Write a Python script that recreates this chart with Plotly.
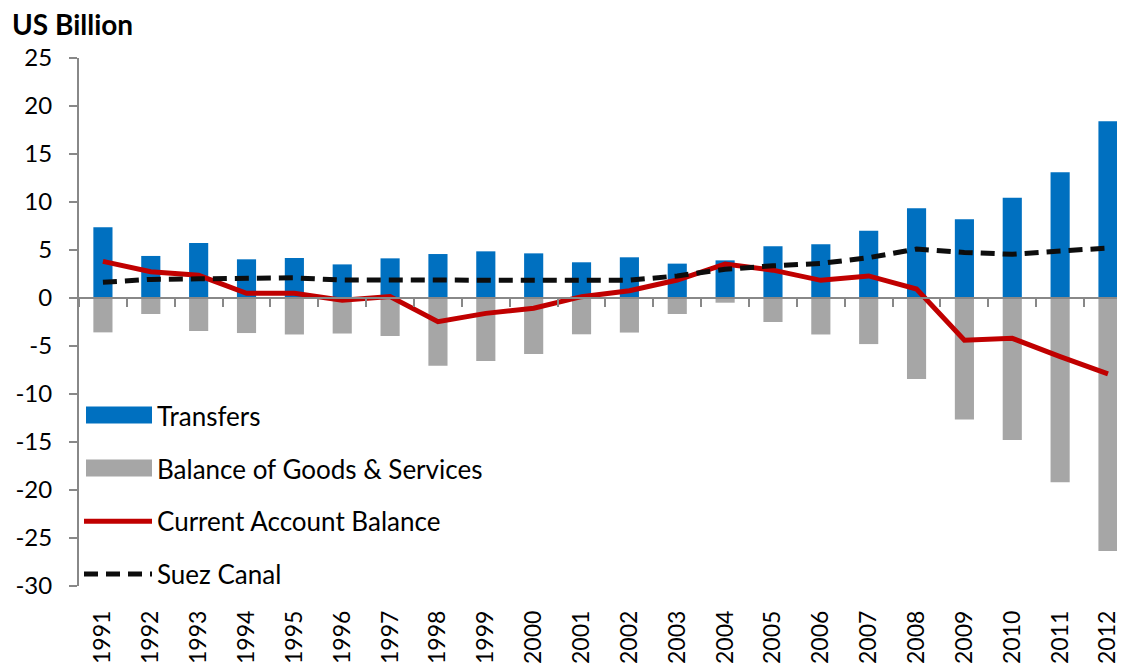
import plotly.graph_objects as go

years = [str(y) for y in range(1991, 2013)]
transfers = [7.36, 4.38, 5.73, 4.03, 4.17, 3.5, 4.13, 4.58, 4.86, 4.65, 3.72, 4.24,
             3.58, 3.92, 5.4, 5.6, 7.0, 9.35, 8.2, 10.45, 13.1, 18.4]
goods_services = [-3.58, -1.67, -3.44, -3.65, -3.8, -3.7, -3.96, -7.05, -6.56, -5.83, -3.78, -3.6,
                  -1.67, -0.49, -2.5, -3.8, -4.8, -8.45, -12.65, -14.8, -19.2, -26.35]
current_account = [3.82, 2.74, 2.36, 0.49, 0.49, -0.24, 0.16, -2.46, -1.6, -1.07, 0.14, 0.76,
                   1.87, 3.54, 2.9, 1.84, 2.3, 0.94, -4.4, -4.2, -6.1, -7.9]
suez_canal = [1.64, 1.94, 2.0, 2.0, 2.1, 1.87, 1.87, 1.84, 1.84, 1.84, 1.85, 1.85,
              2.3, 3.0, 3.35, 3.6, 4.2, 5.1, 4.75, 4.55, 4.9, 5.2]
y_tick_vals = [-30, -25, -20, -15, -10, -5, 0, 5, 10, 15, 20, 25]
y_tick_text = [str(v) for v in y_tick_vals]

FONT = "Lato"
AX = "#888888"
BLUE = "#0070C0"
GREY = "#A6A6A6"
n = len(years)

# layout geometry (page has an 8px body margin, so everything is shifted by -8px)
ML, MT, MR, MB = 71, 50, 8, 86
W, H = 1125, 664
PW = W - ML - MR
PH = H - MT - MB
xrange_ = [-0.5, -0.5 + PW / 47.86]


def px_to_paper_x(px):
    return (px - 8 - ML) / PW


def px_to_paper_y(py):
    return (H - MB - (py - 8)) / PH


fig = go.Figure()
fig.add_trace(go.Bar(x=years, y=transfers, name="Transfers", width=0.4,
                     marker=dict(color=BLUE, line=dict(width=0)), legendgroup="a"))
fig.add_trace(go.Bar(x=years, y=goods_services, name="Balance of Goods & Services", width=0.4,
                     marker=dict(color=GREY, line=dict(width=0)), legendgroup="b"))
fig.add_trace(go.Scatter(x=years, y=current_account, name="Current Account Balance", mode="lines",
                         line=dict(color="#C00000", width=5), legendgroup="c"))
fig.add_trace(go.Scatter(x=years, y=suez_canal, name="Suez Canal", mode="lines",
                         line=dict(color="#0D0D0D", width=5, dash="14px,8px"), legendgroup="d"))
# helper trace for the zero-line category axis
fig.add_trace(go.Scatter(x=years, y=[None] * n, xaxis="x2", showlegend=False, hoverinfo="skip"))

# wide legend swatches for the bar series
shapes = []
for cy, col in [(415, BLUE), (468, GREY)]:
    shapes.append(dict(type="rect", xref="paper", yref="paper", layer="above",
                       x0=px_to_paper_x(86), x1=px_to_paper_x(152),
                       y0=px_to_paper_y(cy - 8.5), y1=px_to_paper_y(cy + 8.5),
                       fillcolor=col, line=dict(width=0)))

fig.update_layout(
    width=W, height=H,
    margin=dict(l=ML, r=MR, t=MT, b=MB),
    plot_bgcolor="white", paper_bgcolor="white",
    barmode="overlay",
    font=dict(family=FONT, size=23, color="black"),
    title=dict(text="<b>US Billion</b>", x=4 / W, xanchor="left", y=1 - 17 / H, yanchor="middle",
               font=dict(family=FONT, size=28, color="black")),
    xaxis=dict(type="category", range=xrange_, showline=False, ticks="", showgrid=False,
               tickangle=-90, tickfont=dict(size=23), ticklabelstandoff=19, zeroline=False),
    xaxis2=dict(type="category", overlaying="x", anchor="free", position=30 / 55, range=xrange_,
                showline=True, linecolor=AX, linewidth=2, ticks="outside", tickson="boundaries",
                ticklen=8, tickwidth=2, tickcolor=AX, showticklabels=False, showgrid=False, side="bottom"),
    yaxis=dict(range=[-30, 25], tickmode="array", tickvals=y_tick_vals, ticktext=y_tick_text,
               ticks="outside", ticklen=8, tickwidth=2, tickcolor=AX,
               showline=True, linecolor=AX, linewidth=2, showgrid=False, zeroline=False,
               tickfont=dict(size=24), ticklabelstandoff=12),
    legend=dict(x=0.0, y=0.367, xanchor="left", yanchor="top", bgcolor="rgba(0,0,0,0)",
                itemwidth=68, tracegroupgap=16, traceorder="grouped", font=dict(size=26)),
    shapes=shapes,
    showlegend=True,
)

fig.write_html("out.html")
